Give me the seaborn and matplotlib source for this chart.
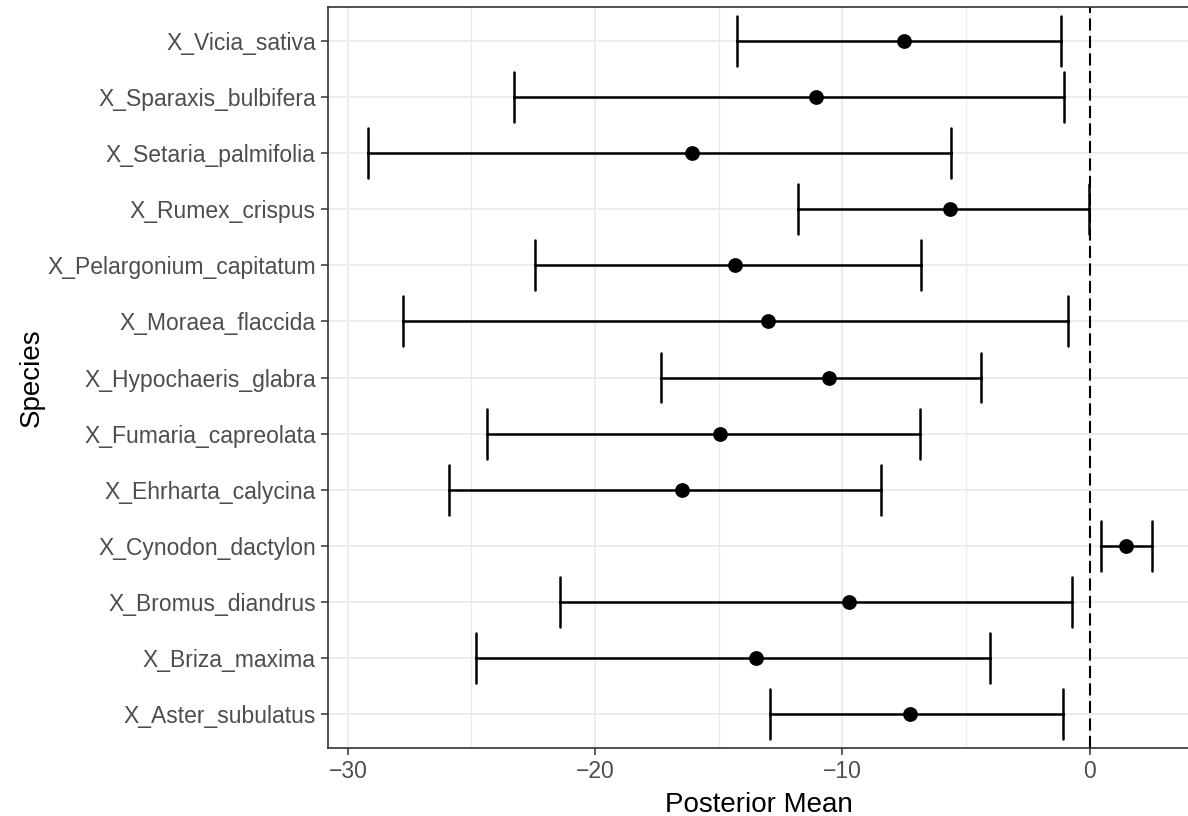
import numpy as np
import pandas as pd
import matplotlib
matplotlib.use("Agg")
import matplotlib.pyplot as plt
from matplotlib.ticker import MultipleLocator
import seaborn as sns

# Species, top to bottom
species = [
    "X_Vicia_sativa", "X_Sparaxis_bulbifera", "X_Setaria_palmifolia",
    "X_Rumex_crispus", "X_Pelargonium_capitatum", "X_Moraea_flaccida",
    "X_Hypochaeris_glabra", "X_Fumaria_capreolata", "X_Ehrharta_calycina",
    "X_Cynodon_dactylon", "X_Bromus_diandrus", "X_Briza_maxima",
    "X_Aster_subulatus",
]
# Posterior means with lower / upper interval bounds
post_mean = [-7.51, -11.05, -16.09, -5.65, -14.34, -13.00, -10.53,
             -14.95, -16.49, 1.46, -9.72, -13.51, -7.27]
lower = [-14.25, -23.28, -29.20, -11.78, -22.44, -27.77, -17.35,
         -24.37, -25.91, 0.48, -21.41, -24.82, -12.91]
upper = [-1.15, -1.03, -5.60, -0.04, -6.82, -0.86, -4.41,
         -6.86, -8.44, 2.52, -0.73, -4.04, -1.07]
x_ticks = [-30, -20, -10, 0]

# Long form: the median of (lower, mean, upper) is the mean,
# and the 100% percentile interval spans lower..upper
df = pd.DataFrame({
    "Species": np.repeat(species, 3),
    "value": np.column_stack([lower, post_mean, upper]).ravel(),
})

sns.set_theme(style="white")
plt.rcParams["font.family"] = ["Liberation Sans", "DejaVu Sans"]

W, H = 1188, 816
fig = plt.figure(figsize=(W / 100, H / 100), dpi=100)
x0, x1, y0, y1 = 328.3, 1190.0, 7.3, 747.7
ax = fig.add_axes([x0 / W, 1 - y1 / H, (x1 - x0) / W, (y1 - y0) / H])

sns.pointplot(
    data=df, x="value", y="Species", order=species,
    estimator=np.median, errorbar=("pi", 100),
    color="black", linestyle="none", marker="o", markersize=8.6,
    capsize=0.89, err_kws={"linewidth": 1.8}, ax=ax,
)

ax.axvline(0, color="black", linestyle=(0, (5.8, 2.6)), linewidth=1.5, zorder=1)

ax.set_xlim(-30.79, 4.06)
ax.set_ylim(len(species) - 0.4, -0.6)

ax.set_xticks(x_ticks)
ax.xaxis.set_minor_locator(MultipleLocator(5))
ax.grid(True, which="major", color="#EBEBEB", linewidth=1.3, zorder=0)
ax.grid(True, which="minor", axis="x", color="#EBEBEB", linewidth=1.0, zorder=0)
ax.set_axisbelow(True)

for side in ["left", "bottom", "top", "right"]:
    ax.spines[side].set_color("#333333")
    ax.spines[side].set_linewidth(1.2)
    ax.spines[side].set_visible(True)

ax.tick_params(axis="both", which="major", length=5, width=1.1,
               color="#333333", labelcolor="#4D4D4D", labelsize=16.5, pad=4,
               left=True, bottom=True)
ax.tick_params(axis="x", which="minor", length=0)

ax.set_xlabel("Posterior Mean", fontsize=20, color="black", labelpad=6)
ax.set_ylabel("Species", fontsize=20, color="black", labelpad=2)

fig.savefig("out.png", dpi=100)
